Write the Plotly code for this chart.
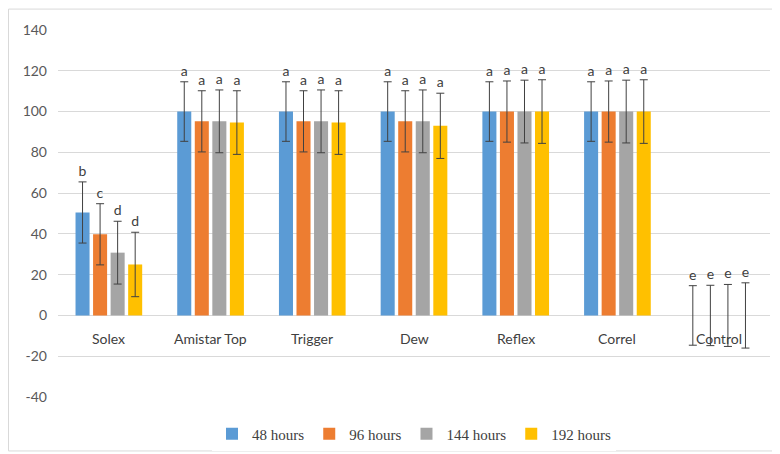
import plotly.graph_objects as go

categories = ["Solex", "Amistar Top", "Trigger", "Dew", "Reflex", "Correl", "Control"]
series_names = ["48 hours", "96 hours", "144 hours", "192 hours"]

h48 = [50.5, 100, 100, 100, 100, 100, 0]
h96 = [39.8, 95.2, 95.2, 95.2, 100, 100, 0]
h144 = [30.8, 95.2, 95.2, 95.2, 100, 100, 0]
h192 = [25.0, 94.6, 94.6, 93.0, 100, 100, 0]

e48 = [15.0, 14.6, 14.6, 14.6, 14.6, 14.6, 14.6]
e96 = [15.0, 15.0, 15.0, 15.0, 15.0, 15.0, 14.8]
e144 = [15.4, 15.4, 15.4, 15.4, 15.4, 15.4, 15.2]
e192 = [15.8, 15.6, 15.6, 16.0, 15.6, 15.6, 16.0]

l48 = ["b", "a", "a", "a", "a", "a", "e"]
l96 = ["c", "a", "a", "a", "a", "a", "e"]
l144 = ["d", "a", "a", "a", "a", "a", "e"]
l192 = ["d", "a", "a", "a", "a", "a", "e"]

y_ticks = [-40, -20, 0, 20, 40, 60, 80, 100, 120, 140]

colors = ["#5B9BD5", "#ED7D31", "#A5A5A5", "#FFC000"]

values = [h48, h96, h144, h192]
errors = [e48, e96, e144, e192]
letters = [l48, l96, l144, l192]

FONT = "Lato, Open Sans, sans-serif"

fig = go.Figure()
for j in range(4):
    fig.add_trace(go.Bar(
        x=categories, y=values[j], name=series_names[j],
        marker=dict(color=colors[j], line=dict(width=0)),
        offsetgroup=str(j),
        error_y=dict(type="data", array=errors[j], visible=True,
                     color="#404040", thickness=1, width=4),
    ))
for j in range(4):
    fig.add_trace(go.Bar(
        x=categories, y=[v + e for v, e in zip(values[j], errors[j])],
        offsetgroup=str(j), showlegend=False, hoverinfo="skip",
        marker=dict(color="rgba(0,0,0,0)", line=dict(width=0)),
        text=letters[j], textposition="outside", cliponaxis=False,
        textfont=dict(family=FONT, size=14, color="#404040"),
    ))

for c in categories:
    fig.add_annotation(x=c, y=0, xref="x", yref="y", text=c, showarrow=False,
                       yanchor="top", yshift=-13,
                       font=dict(family=FONT, size=14, color="#404040"))

fig.add_shape(type="rect", xref="paper", yref="paper",
              x0=-0.0695, x1=1.0098, y0=-0.147, y1=1.057,
              line=dict(color="#D9D9D9", width=1), fillcolor="rgba(0,0,0,0)", layer="below")

fig.update_layout(
    width=780, height=454,
    margin=dict(l=50, r=18, t=22, b=64),
    paper_bgcolor="white", plot_bgcolor="white",
    barmode="group", bargap=0.31, bargroupgap=0.2,
    showlegend=True,
    legend=dict(orientation="h", x=0.5, xanchor="center", y=-0.098, yanchor="middle",
                font=dict(family="Liberation Serif, Times New Roman, serif", size=15, color="#404040"),
                itemwidth=30, traceorder="normal"),
    xaxis=dict(type="category", showticklabels=False, showgrid=False, showline=False,
               zeroline=False, ticks=""),
    yaxis=dict(range=[-40, 140], tickvals=y_ticks, ticktext=[str(v) for v in y_ticks],
               showgrid=True, gridcolor="#D9D9D9",
               gridwidth=1, zeroline=True, zerolinecolor="#D9D9D9", zerolinewidth=1,
               showline=False, ticks="", ticklabelstandoff=10,
               tickfont=dict(family=FONT, size=14, color="#595959")),
)

fig.write_html("out.html")
